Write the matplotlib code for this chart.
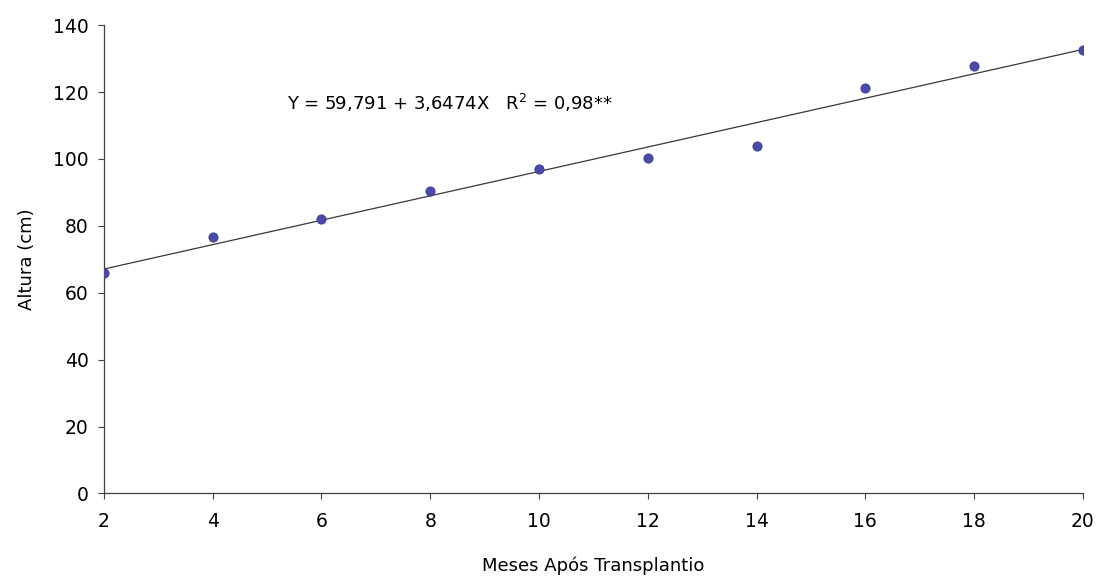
import numpy as np
import matplotlib.pyplot as plt

plt.rcParams['font.family'] = ['DejaVu Sans']

# plant height per sampling month
meses = [2, 4, 6, 8, 10, 12, 14, 16, 18, 20]
altura = [65.9, 76.6, 81.9, 90.4, 97.0, 100.3, 103.9, 121.3, 127.8, 132.5]

# fitted linear regression
intercepto = 59.791
inclinacao = 3.6474

fig = plt.figure(figsize=(11.05, 5.84), dpi=100)
ax = fig.add_axes([0.094, 0.155, 0.886, 0.802])

x_fit = np.array([meses[0], meses[-1]])
ax.plot(x_fit, intercepto + inclinacao * x_fit, color='#383838', lw=0.9, zorder=2)
ax.scatter(meses, altura, s=44, color='#4a4aa8', edgecolors='#3a3a90',
           linewidths=0.6, zorder=3)

ax.text(5.36, 116.7, 'Y = 59,791 + 3,6474X   R$^2$ = 0,98**',
        fontsize=13, va='center', ha='left')

ax.set_xlim(2, 20)
ax.set_ylim(0, 140)
ax.set_xticks(meses)
ax.set_yticks(range(0, 141, 20))
ax.tick_params(labelsize=13.5, length=4, width=0.8, color='#404040', pad=7)
ax.tick_params(axis='x', pad=9)

for side in ['top', 'right']:
    ax.spines[side].set_visible(False)
for side in ['left', 'bottom']:
    ax.spines[side].set_color('#404040')
    ax.spines[side].set_linewidth(0.9)

ax.set_xlabel('Meses Após Transplantio', fontsize=13, labelpad=19)
ax.set_ylabel('Altura (cm)', fontsize=13, labelpad=12)

fig.savefig('out.png', dpi=100)
